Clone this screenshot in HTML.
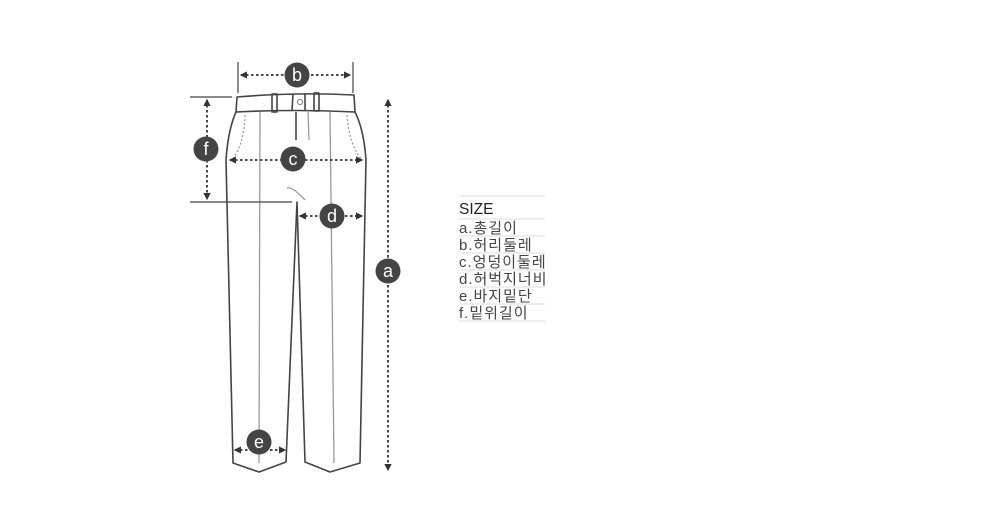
<!DOCTYPE html>
<html><head><meta charset="utf-8"><style>
html,body{margin:0;padding:0;background:#fff;width:1000px;height:522px;overflow:hidden}
svg{position:absolute;left:0;top:0}
.t{font-family:"Liberation Sans","Noto Sans CJK KR",sans-serif;fill:#444}
</style></head><body>
<svg width="1000" height="522" viewBox="0 0 1000 522">
<defs><marker id="ar" viewBox="0 0 6 6" refX="5" refY="3" markerWidth="4" markerHeight="4" orient="auto-start-reverse"><path d="M0,0L6,3L0,6z" fill="#333"/></marker></defs>
<g fill="none" stroke="#444" stroke-width="1.6" stroke-linejoin="round">
<path d="M237,97 Q296,92 354,95 L355,112 Q296,109 236,112 Z"/>
<path d="M236,112 Q228,130 226,160 L233,463 L259,472 L286,462 L297,202 L305,462 L330,472 L360,463 L366,160 Q364,130 355,112"/>
<rect x="272" y="94" width="5" height="18"/><rect x="314" y="93" width="5" height="18"/>
<path d="M293,94 L292,111 M305,93 L305,110"/>
<path d="M296,112 L296,140"/>
</g>
<circle cx="300" cy="102" r="2.5" fill="none" stroke="#777" stroke-width="1"/>
<g fill="none" stroke="#999" stroke-width="1.3">
<path d="M260,112 L259,463 M330,112 L334,463 M308,112 L309,140"/>
<path d="M245,115 Q244,145 232,160 M347,115 Q349,145 362,160" stroke-dasharray="2,2"/>
<path d="M287,188 Q292,186 305,200"/>
</g>
<g stroke="#444" stroke-width="1.2" fill="none">
<path d="M238,62 L238,93 M353,62 L353,93 M190,97 L232,97 M190,202 L292,202"/>
</g>
<g stroke="#333" stroke-width="1.8" stroke-dasharray="2.5,2.5" fill="none" marker-start="url(#ar)" marker-end="url(#ar)">
<path d="M241,75 L350,75"/>
<path d="M207,100 L207,199"/>
<path d="M230,160 L362,160"/>
<path d="M300,216 L362,216"/>
<path d="M388,100 L388,470"/>
<path d="M235,450 L285,450"/>
</g>
<g>
<circle cx="297" cy="75" r="12.5" fill="#444"/><circle cx="293" cy="159" r="12.5" fill="#444"/>
<circle cx="206" cy="149" r="12.5" fill="#444"/><circle cx="332" cy="216" r="12.5" fill="#444"/>
<circle cx="388" cy="271" r="12.5" fill="#444"/><circle cx="259" cy="442" r="12.5" fill="#444"/>
</g>
<g font-family="Liberation Sans, sans-serif" font-size="18" fill="#fff" text-anchor="middle">
<text x="297" y="81">b</text><text x="293" y="165">c</text><text x="206" y="155">f</text>
<text x="332" y="222">d</text><text x="388" y="277">a</text><text x="259" y="448">e</text>
</g>
<g stroke="#ddd" stroke-width="1">
<path d="M459,196H545M459,219H545M459,236H545M459,253H545M459,270H545M459,287H545M459,304H545M459,321H545"/>
</g>
<g class="t" font-size="15" letter-spacing="1">
<text x="459" y="214" font-size="15.5" letter-spacing="0" fill="#222">SIZE</text>
<text x="459" y="233">a.총길이</text>
<text x="459" y="250">b.허리둘레</text>
<text x="459" y="267">c.엉덩이둘레</text>
<text x="459" y="284">d.허벅지너비</text>
<text x="459" y="301">e.바지밑단</text>
<text x="459" y="318">f.밑위길이</text>
</g>
</svg>
</body></html>
